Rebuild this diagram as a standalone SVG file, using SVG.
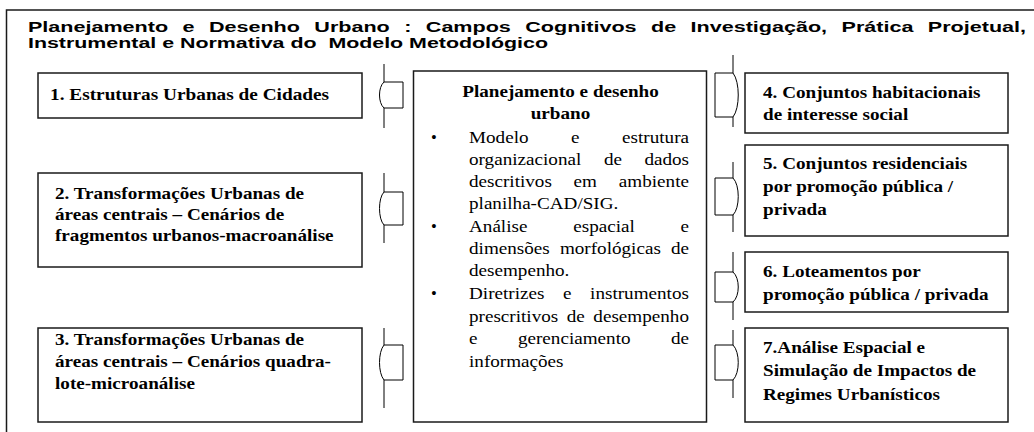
<svg xmlns="http://www.w3.org/2000/svg" width="1034" height="432" viewBox="0 0 1034 432">
<style>
.box{fill:#fff;stroke:#1a1a1a;stroke-width:1.5}
.frame{fill:none;stroke:#1a1a1a;stroke-width:1.5}
.bt{font-family:"Liberation Serif","Times New Roman",serif;font-weight:bold;font-size:16.5px;fill:#000}
.rt{font-family:"Liberation Serif","Times New Roman",serif;font-size:16.5px;fill:#000}
.ttl{font-family:"Liberation Sans",Arial,sans-serif;font-weight:bold;font-size:14px;fill:#000}
.con{fill:none;stroke:#000;stroke-width:1}
</style>
<rect width="1034" height="432" fill="#fff"/>
<path class="frame" d="M6.5,440 V10 H1040"/>
<g id="title">
<text class="ttl" x="28" y="32" textLength="998" lengthAdjust="spacingAndGlyphs" word-spacing="5.5">Planejamento e Desenho Urbano : Campos Cognitivos de Investigação, Prática Projetual,</text>
<text class="ttl" x="28" y="48" textLength="520" lengthAdjust="spacingAndGlyphs" xml:space="preserve">Instrumental e Normativa do  Modelo Metodológico</text>
</g>
<g id="connectors">
<path class="con" d="M384,64 V82 C378,87 378,103 384,108 V128 M384,82 H403 V108 H384"/>
<path class="con" d="M384,173 V192 C378,198 378,219 384,225 V243 M384,192 H403 V225 H384"/>
<path class="con" d="M384,328 V345 C378,352 378,373 384,380 V408 M384,345 H403 V380 H384"/>
<path class="con" d="M733,55 V73 C740,82 740,108 733,117 V127 M733,73 H715 V117 H733"/>
<path class="con" d="M733,162 V178 C740,185 740,208 733,215 V232 M733,178 H715 V215 H733"/>
<path class="con" d="M733,252 V272 C740,278 740,296 733,302 V320 M733,272 H715 V302 H733"/>
<path class="con" d="M733,330 V345 C740,352 740,373 733,380 V398 M733,345 H715 V380 H733"/>
</g>
<g id="node1">
<rect class="box" x="38" y="73" width="324" height="45"/>
<g transform="translate(50,0) scale(1.17,1)"><text class="bt" x="0" y="100">1. Estruturas Urbanas de Cidades</text></g>
</g>
<g id="node2">
<rect class="box" x="38" y="173" width="324" height="94"/>
<g transform="translate(55,0) scale(1.16,1)">
<text class="bt" x="0" y="199">2. Transformações Urbanas de</text>
<text class="bt" x="0" y="220">áreas centrais – Cenários de</text>
<text class="bt" x="0" y="241">fragmentos urbanos-macroanálise</text>
</g>
</g>
<g id="node3">
<rect class="box" x="38" y="328" width="324" height="94"/>
<g transform="translate(55,0) scale(1.16,1)">
<text class="bt" x="0" y="345">3. Transformações Urbanas de</text>
<text class="bt" x="0" y="367">áreas centrais – Cenários quadra-</text>
<text class="bt" x="0" y="389">lote-microanálise</text>
</g>
</g>
<g id="center">
<rect class="box" x="413.5" y="71" width="293" height="351"/>
<g transform="translate(560.5,0) scale(1.16,1)">
<text class="bt" x="0" y="97" text-anchor="middle">Planejamento e desenho</text>
<text class="bt" x="0" y="119" text-anchor="middle">urbano</text>
</g>
<text class="rt" x="431" y="143">•</text>
<text class="rt" x="431" y="232">•</text>
<text class="rt" x="431" y="299">•</text>
<g transform="translate(469,0) scale(1.16,1)">
<text class="rt" y="143"><tspan x="0">Modelo</tspan> <tspan x="88">e</tspan> <tspan x="132">estrutura</tspan></text>
<text class="rt" y="165"><tspan x="0">organizacional</tspan> <tspan x="116.4">de</tspan> <tspan x="151.2">dados</tspan></text>
<text class="rt" y="187"><tspan x="0">descritivos</tspan> <tspan x="90.2">em</tspan> <tspan x="129.2">ambiente</tspan></text>
<text class="rt" x="0" y="209">planilha-CAD/SIG.</text>
<text class="rt" y="232"><tspan x="0">Análise</tspan> <tspan x="89.9">espacial</tspan> <tspan x="182.4">e</tspan></text>
<text class="rt" y="254"><tspan x="0">dimensões</tspan> <tspan x="78.4">morfológicas</tspan> <tspan x="174.1">de</tspan></text>
<text class="rt" x="0" y="276">desempenho.</text>
<text class="rt" y="299"><tspan x="0">Diretrizes</tspan> <tspan x="81.1">e</tspan> <tspan x="104.4">instrumentos</tspan></text>
<text class="rt" y="322"><tspan x="0">prescritivos</tspan> <tspan x="84.3">de</tspan> <tspan x="107.2">desempenho</tspan></text>
<text class="rt" y="344"><tspan x="0">e</tspan> <tspan x="42.2">gerenciamento</tspan> <tspan x="174.1">de</tspan></text>
<text class="rt" x="0" y="367">informações</text>
</g>
</g>
<g id="node4">
<rect class="box" x="745" y="73" width="263" height="60"/>
<g transform="translate(763,0) scale(1.16,1)">
<text class="bt" x="0" y="98">4. Conjuntos habitacionais</text>
<text class="bt" x="0" y="120">de interesse social</text>
</g>
</g>
<g id="node5">
<rect class="box" x="745" y="145" width="263" height="91"/>
<g transform="translate(763,0) scale(1.16,1)">
<text class="bt" x="0" y="169">5. Conjuntos residenciais</text>
<text class="bt" x="0" y="192">por promoção pública /</text>
<text class="bt" x="0" y="215">privada</text>
</g>
</g>
<g id="node6">
<rect class="box" x="745" y="252" width="263" height="60"/>
<g transform="translate(763,0) scale(1.16,1)">
<text class="bt" x="0" y="277">6. Loteamentos por</text>
<text class="bt" x="0" y="300">promoção pública / privada</text>
</g>
</g>
<g id="node7">
<rect class="box" x="745" y="328" width="263" height="94"/>
<g transform="translate(763,0) scale(1.16,1)">
<text class="bt" x="0" y="353">7.Análise Espacial e</text>
<text class="bt" x="0" y="376">Simulação de Impactos de</text>
<text class="bt" x="0" y="400">Regimes Urbanísticos</text>
</g>
</g>
</svg>
